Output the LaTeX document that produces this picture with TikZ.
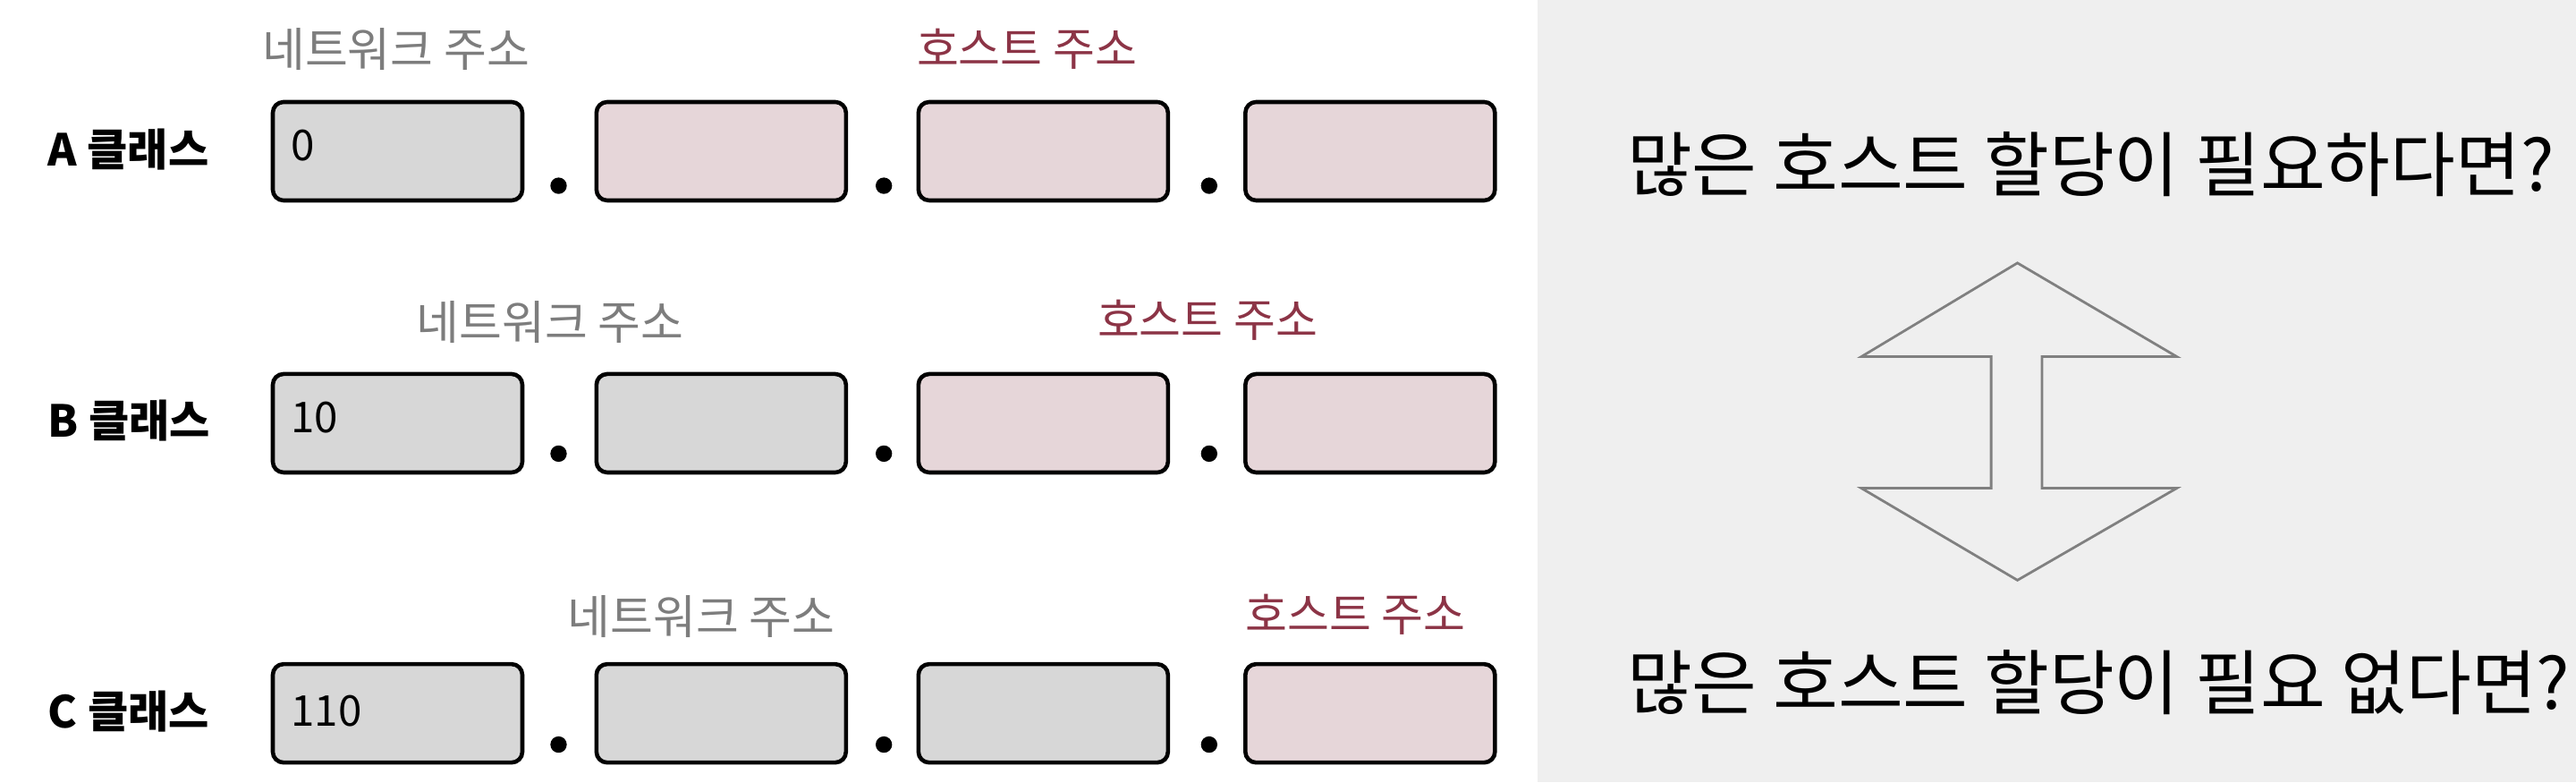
\documentclass[tikz,border=0pt]{standalone}
\usepackage{fontspec}
\usetikzlibrary{positioning}
\newfontfamily\kr{Noto Sans CJK KR}
\definecolor{netgray}{RGB}{215,215,215}
\definecolor{hostpink}{RGB}{230,214,217}
\definecolor{hostred}{RGB}{140,52,70}
\definecolor{panelgray}{RGB}{239,239,239}
\definecolor{labelgray}{RGB}{125,125,125}
\definecolor{arrowgray}{RGB}{128,128,128}
\tikzset{
	octet/.style={draw=black, line width=1.3pt, rounded corners=1.2mm, minimum width=27.9mm, minimum height=11mm, inner sep=0pt},
	netbox/.style={octet, fill=netgray},
	hostbox/.style={octet, fill=hostpink},
	classlabel/.style={anchor=west, inner sep=0pt, font=\kr\bfseries\fontsize{14}{16}\selectfont},
	netlabel/.style={text=labelgray, inner sep=0pt, font=\kr\fontsize{14.8}{17}\selectfont},
	hostlabel/.style={text=hostred, inner sep=0pt, font=\kr\fontsize{14.5}{17}\selectfont},
	bits/.style={inner sep=0pt, font=\kr\fontsize{13.5}{15}\selectfont},
	question/.style={anchor=west, inner sep=0pt, font=\kr\fontsize{22.5}{26}\selectfont},
}
\begin{document}
\begin{tikzpicture}[x=0.18367mm, y=-0.18367mm]
	\useasboundingbox (0,0) rectangle (1568,476);
	% Fondo
		\fill[panelgray] (936,0) rectangle (1568,476);

	% Clase A
		\node[classlabel] (ca) at (29,91) {A 클래스};
		\node[netbox] (a1) at (242,92) {};
		\node[hostbox] (a2) at (439,92) {};
		\node[hostbox] (a3) at (635,92) {};
		\node[hostbox] (a4) at (834,92) {};
		\node[bits, right=2.2mm of a1.west, yshift=0.6mm] (ba) {0};
		\node[netlabel] (na) at (241,30) {네트워크 주소};
		\node[hostlabel] (ha) at (625,30) {호스트 주소};
		\fill (340,113) circle[radius=5];
		\fill (538,113) circle[radius=5];
		\fill (736,113) circle[radius=5];

	% Clase B
		\node[classlabel] (cb) at (29,256) {B 클래스};
		\node[netbox] (b1) at (242,257.5) {};
		\node[netbox] (b2) at (439,257.5) {};
		\node[hostbox] (b3) at (635,257.5) {};
		\node[hostbox] (b4) at (834,257.5) {};
		\node[bits, right=2.2mm of b1.west, yshift=0.6mm] (bb) {10};
		\node[netlabel] (nb) at (335,196) {네트워크 주소};
		\node[hostlabel] (hb) at (735,195) {호스트 주소};
		\fill (340,276) circle[radius=5];
		\fill (538,276) circle[radius=5];
		\fill (736,276) circle[radius=5];

	% Clase C
		\node[classlabel] (cc) at (29,433) {C 클래스};
		\node[netbox] (c1) at (242,434) {};
		\node[netbox] (c2) at (439,434) {};
		\node[netbox] (c3) at (635,434) {};
		\node[hostbox] (c4) at (834,434) {};
		\node[bits, right=2.2mm of c1.west, yshift=0.3mm] (bc) {110};
		\node[netlabel] (nc) at (427,375) {네트워크 주소};
		\node[hostlabel] (hc) at (825,374) {호스트 주소};
		\fill (340,453) circle[radius=5];
		\fill (538,453) circle[radius=5];
		\fill (736,453) circle[radius=5];

	% Preguntas
		\node[question] (q1) at (990,100) {많은 호스트 할당이 필요하다면?};
		\node[question] (q2) at (990,415) {많은 호스트 할당이 필요 없다면?};

	% Flecha doble
		\draw[arrowgray, line width=0.8pt] (1228,160) -- (1325,217) -- (1243,217) -- (1243,297) -- (1325,297) -- (1228,353) -- (1133,297) -- (1212,297) -- (1212,217) -- (1133,217) -- cycle;
\end{tikzpicture}
\end{document}
